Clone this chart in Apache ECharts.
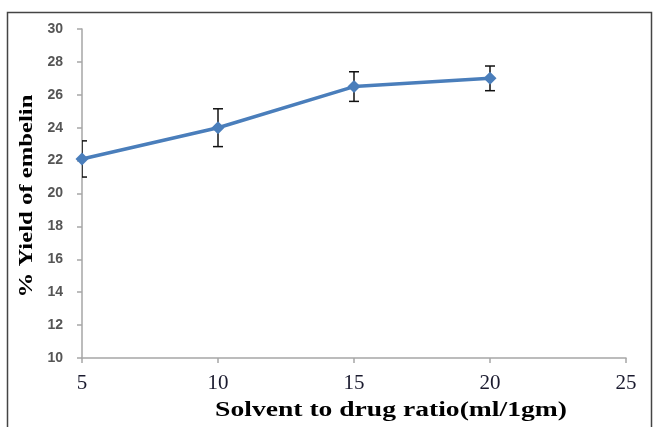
<!DOCTYPE html>
<html>
<head>
<meta charset="utf-8">
<script src="https://cdn.jsdelivr.net/npm/echarts@6/dist/echarts.min.js"></script>
<style>
html,body{margin:0;padding:0;background:#fff;}
#c{width:653px;height:427px;}
</style>
</head>
<body>
<div id="c"></div>
<script>
var ratios = [5, 10, 15, 20];
var yields = [22.1, 24.0, 26.5, 27.0];
var errors = [1.1, 1.15, 0.9, 0.75];
var xTitle = 'Solvent to drug ratio(ml/1gm)';
var yTitle = '% Yield of embelin';

var lineData = ratios.map(function (r, i) { return [r, yields[i]]; });
var errData = ratios.map(function (r, i) { return [r, yields[i] - errors[i], yields[i] + errors[i]]; });

var chart = echarts.init(document.getElementById('c'), null, {renderer: 'canvas'});
chart.setOption({
  animation: false,
  backgroundColor: '#fff',
  graphic: [{
    type: 'rect',
    shape: {x: 7.5, y: 12.5, width: 644, height: 430},
    style: {fill: 'none', stroke: '#444', lineWidth: 1.5},
    silent: true
  }, {
    type: 'text',
    x: 391, y: 411,
    scaleX: 1.38,
    style: {
      text: xTitle,
      font: 'bold 20px "Liberation Serif"',
      fill: '#000',
      textAlign: 'center', textVerticalAlign: 'middle',
      align: 'center', verticalAlign: 'middle'
    }
  }, {
    type: 'text',
    x: 27, y: 196,
    rotation: Math.PI / 2,
    scaleX: 1.3,
    style: {
      text: yTitle,
      font: 'bold 19px "Liberation Serif"',
      fill: '#000',
      textAlign: 'center', textVerticalAlign: 'middle',
      align: 'center', verticalAlign: 'middle'
    }
  }],
  grid: {left: 82, right: 27, top: 29, bottom: 69},
  xAxis: {
    type: 'value',
    min: 5, max: 25, interval: 5,
    axisLine: {lineStyle: {color: '#a6a6a6', width: 1.5}},
    axisTick: {show: true, length: 5, lineStyle: {color: '#a6a6a6', width: 1.5}},
    splitLine: {show: false},
    axisLabel: {
      margin: 15,
      fontFamily: 'Liberation Serif',
      fontSize: 21,
      color: '#1a1a2e'
    }
  },
  yAxis: {
    type: 'value',
    min: 10, max: 30, interval: 2,
    axisLine: {show: true, lineStyle: {color: '#a6a6a6', width: 1.5}},
    axisTick: {show: true, length: 5, lineStyle: {color: '#a6a6a6', width: 1.5}},
    splitLine: {show: false},
    axisLabel: {
      margin: 19,
      fontFamily: 'Liberation Sans',
      fontWeight: 'bold',
      fontSize: 14,
      color: '#555'
    }
  },
  series: [{
    type: 'line',
    data: lineData,
    symbol: 'diamond',
    symbolSize: 13,
    lineStyle: {color: '#4a7ebb', width: 3.5},
    itemStyle: {color: '#4a7ebb'},
    z: 3
  }, {
    type: 'custom',
    data: errData,
    clip: true,
    z: 2,
    renderItem: function (params, api) {
      var x = api.value(0);
      var lo = api.coord([x, api.value(1)]);
      var hi = api.coord([x, api.value(2)]);
      var w = 5;
      var st = {stroke: '#111', lineWidth: 1.5, fill: 'none'};
      return {
        type: 'group',
        children: [
          {type: 'line', shape: {x1: hi[0], y1: hi[1], x2: lo[0], y2: lo[1]}, style: st},
          {type: 'line', shape: {x1: hi[0] - w, y1: hi[1], x2: hi[0] + w, y2: hi[1]}, style: st},
          {type: 'line', shape: {x1: lo[0] - w, y1: lo[1], x2: lo[0] + w, y2: lo[1]}, style: st}
        ]
      };
    }
  }]
});
</script>
</body>
</html>
